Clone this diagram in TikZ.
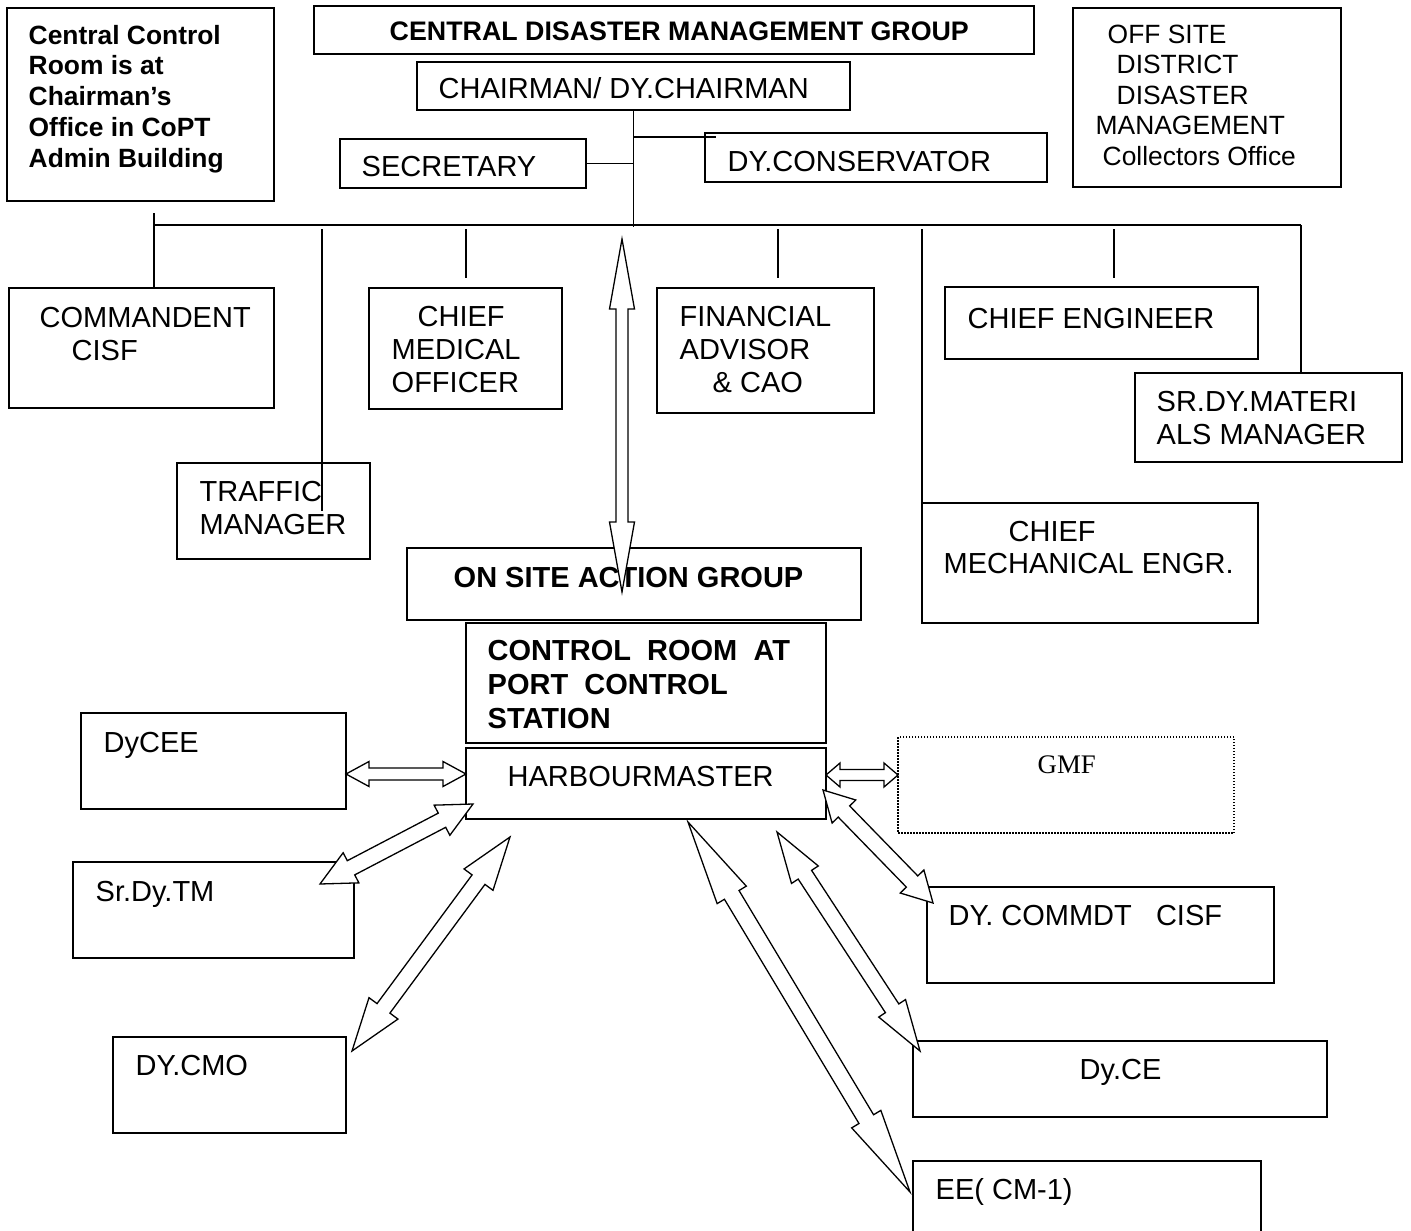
\documentclass[tikz,border=0pt]{standalone}
\usepackage{fontspec}
\setmainfont{Liberation Sans}
\newfontfamily\timesfont{Liberation Serif}
\usetikzlibrary{calc}

\tikzset{
  cell/.style 2 args={draw, rectangle, line width=1.6pt, inner sep=0pt, outer sep=0pt,
    minimum width=#1, minimum height=#2, anchor=north west},
  txt/.style={font=\fontsize{29}{33}\selectfont, inner sep=0pt, anchor=base west, align=left},
  btxt/.style={txt, font=\bfseries\fontsize{29}{34}\selectfont},
  blockarrow/.style={draw, fill=white, line width=1.3pt, line join=miter}
}

% hollow two-headed block arrow: tips, head length, head half width, shaft half width
\newcommand{\twoway}[5]{%
  \draw[blockarrow] (#1)
    -- ($(#1)!#3!(#2)!#4!90:(#2)$) -- ($(#1)!#3!(#2)!#5!90:(#2)$)
    -- ($(#2)!#3!(#1)!#5!-90:(#1)$) -- ($(#2)!#3!(#1)!#4!-90:(#1)$)
    -- (#2)
    -- ($(#2)!#3!(#1)!#4!90:(#1)$) -- ($(#2)!#3!(#1)!#5!90:(#1)$)
    -- ($(#1)!#3!(#2)!#5!-90:(#2)$) -- ($(#1)!#3!(#2)!#4!-90:(#2)$)
    -- cycle;}

\begin{document}
\begin{tikzpicture}[x=1pt, y=-1pt, line width=1.4pt]
\useasboundingbox (0,0) rectangle (1411,1231);
\clip (0,0) rectangle (1411,1231);

% boxes
\node[cell={267}{193}] (ccr) at (7,8) {};
\node[cell={720}{48}] (cdmg) at (314,6) {};
\node[cell={433}{48}] (chair) at (417,62) {};
\node[cell={246}{49}] (secretary) at (340,139) {};
\node[cell={342}{49}] (dycons) at (705,133) {};
\node[cell={268}{179}] (offsite) at (1073,8) {};
\node[cell={265}{120}] (cisf) at (9,288) {};
\node[cell={193}{121}] (cmo) at (369,288) {};
\node[cell={217}{125}] (fin) at (657,288) {};
\node[cell={313}{72}] (ce) at (945,287) {};
\node[cell={267}{89}] (srdy) at (1135,373) {};
\node[cell={193}{96}] (traffic) at (177,463) {};
\node[cell={336}{120}] (cme) at (922,503) {};
\node[cell={454}{72}] (osag) at (407,548) {};
\node[cell={360}{120}] (crps) at (466,623) {};
\node[cell={360}{71}] (hm) at (466,748) {};
\node[cell={265}{96}] (dycee) at (81,713) {};
\node[cell={336}{96}, line width=1.5pt, dash pattern=on 1.5pt off 1.5pt] (gmf) at (898,737) {};
\node[cell={281}{96}] (srdytm) at (73,862) {};
\node[cell={347}{96}] (dycisf) at (927,887) {};
\node[cell={233}{96}] (dycmo) at (113,1037) {};
\node[cell={414}{76}] (dyce) at (913,1041) {};
\node[cell={348}{100}] (ee) at (913,1161) {};

% tree lines
\coordinate (busL) at (154,225);
\coordinate (busR) at (1301,225);
\coordinate (hub) at (chair.south |- busL);
\coordinate (dyjoin) at (chair.south |- 0,137);
\draw (chair.south) -- ([yshift=-2pt]hub);
\draw (secretary.east) -- (secretary.east -| chair.south);
\draw (dyjoin) -- ([xshift=11pt]dyjoin -| dycons.west);
\draw (busL) -- (busR);
\draw ([yshift=12pt]busL) -- (cisf.north -| busL);
\coordinate (d2) at (322,229);
\draw (d2) -- (d2 |- traffic.center);
\coordinate (d3) at (466,229);
\draw (d3) -- ([yshift=10pt]d3 |- cmo.north);
\coordinate (d4) at (778,229);
\draw (d4) -- ([yshift=10pt]d4 |- fin.north);
\draw (cme.north west |- d4) -- (cme.north west);
\coordinate (d6) at (1114,229);
\draw (d6) -- ([yshift=9pt]d6 |- ce.north);
\draw (busR) -- (busR |- srdy.north);

% texts (multi-line ones sit on their last baseline)
\node[btxt, font=\bfseries\fontsize{26.4}{30.7}\selectfont] (ccr-t) at (28,167) {Central Control\\Room is at\\Chairman’s\\Office in CoPT\\Admin Building};
\node[btxt, font=\bfseries\fontsize{26.8}{30}\selectfont] (cdmg-t) at (389,41) {CENTRAL DISASTER MANAGEMENT GROUP};
\node[txt] (chair-t) at (438,99) {CHAIRMAN/ DY.CHAIRMAN};
\node[txt] (secretary-t) at (361,176) {SECRETARY};
\node[txt] (dycons-t) at (727,171) {DY.CONSERVATOR};
\node[txt, font=\fontsize{26.4}{30.4}\selectfont] (offsite-t) at (1095,165) {\hspace*{12pt}OFF SITE\\\hspace*{21pt}DISTRICT\\\hspace*{21pt}DISASTER\\MANAGEMENT\\\hspace*{7pt}Collectors Office};
\node[txt] (cisf-t) at (39,360) {COMMANDENT\\\hspace*{32pt}CISF};
\node[txt] (cmo-t) at (391,392) {\hspace*{26pt}CHIEF\\MEDICAL\\OFFICER};
\node[txt] (fin-t) at (679,392) {FINANCIAL\\ADVISOR\\\hspace*{33pt}\& CAO};
\node[txt] (ce-t) at (967,328) {CHIEF ENGINEER};
\node[txt] (srdy-t) at (1156,444) {SR.DY.MATERI\\ALS MANAGER};
\node[txt] (traffic-t) at (199,534) {TRAFFIC\\MANAGER};
\node[txt, font=\fontsize{29}{32}\selectfont] (cme-t) at (943,573) {\hspace*{65pt}CHIEF\\MECHANICAL ENGR.};
\node[btxt] (osag-t) at (453,587) {ON SITE ACTION GROUP};
\node[btxt] (crps-t) at (487,728) {CONTROL\ \ ROOM\ \ AT\\PORT\ \ CONTROL\\STATION};
\node[txt] (hm-t) at (507,786) {HARBOURMASTER};
\node[txt] (dycee-t) at (103,752) {DyCEE};
\node[txt, font=\timesfont\fontsize{26.8}{30}\selectfont] (gmf-t) at (1037,773) {GMF};
\node[txt] (srdytm-t) at (95,901) {Sr.Dy.TM};
\node[txt] (dycisf-t) at (948,925) {DY. COMMDT\ \ \ CISF};
\node[txt] (dycmo-t) at (135,1075) {DY.CMO};
\node[txt] (dyce-t) at (1079,1079) {Dy.CE};
\node[txt] (ee-t) at (935,1199) {EE( CM-1)};

% block arrows
\coordinate (up) at (622,239);
\coordinate (down) at (622,592);
\twoway{up}{down}{70pt}{12.5pt}{6pt}
\coordinate (a1) at (dycee.east |- 0,774);
\coordinate (a2) at (hm.west |- 0,774);
\twoway{a1}{a2}{23pt}{12.5pt}{6pt}
\coordinate (g1) at (hm.east |- 0,775);
\coordinate (g2) at (gmf.west |- 0,775);
\twoway{g1}{g2}{14pt}{12pt}{5.5pt}
\coordinate (tm1) at (320,884);
\coordinate (tm2) at (473,804);
\twoway{tm1}{tm2}{35pt}{17pt}{8pt}
\coordinate (mo1) at (352,1051);
\coordinate (mo2) at (510,837);
\twoway{mo1}{mo2}{53pt}{18pt}{8pt}
\coordinate (ee1) at (688,822);
\coordinate (ee2) at (910,1192);
\twoway{ee1}{ee2}{85pt}{17pt}{8.5pt}
\coordinate (ce1) at (777,832);
\coordinate (ce2) at (920,1051);
\twoway{ce1}{ce2}{51pt}{16pt}{8pt}
\coordinate (cf1) at (823,790);
\coordinate (cf2) at (933,903);
\twoway{cf1}{cf2}{30pt}{16.5pt}{8pt}
\end{tikzpicture}
\end{document}
